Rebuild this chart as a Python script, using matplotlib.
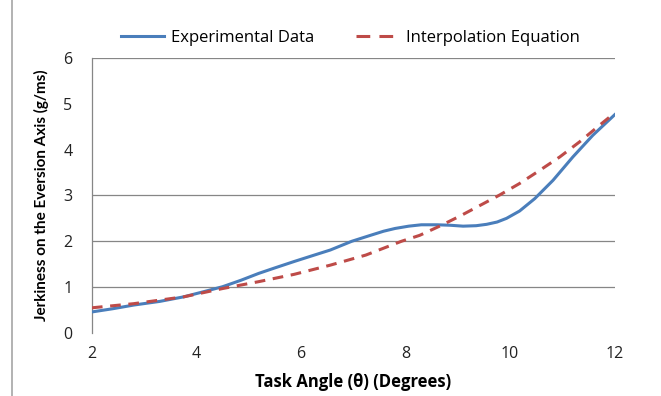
import matplotlib.pyplot as plt
from matplotlib.lines import Line2D

plt.rcParams["font.family"] = ["Open Sans", "DejaVu Sans"]

# task angle (degrees) and jerkiness values
exp_angle = [2.0, 2.4, 2.8, 3.3, 3.76, 4.1, 4.5, 4.85, 5.19, 5.5, 5.87, 6.2, 6.56,
             6.97, 7.3, 7.58, 7.8, 8.06, 8.3, 8.6, 8.85, 9.1, 9.35, 9.55, 9.75,
             9.93, 10.18, 10.47, 10.82, 11.2, 11.58, 12.0]
exp_jerk = [0.46, 0.53, 0.61, 0.69, 0.79, 0.89, 1.01, 1.15, 1.30, 1.42, 1.56, 1.68, 1.81,
            2.00, 2.12, 2.22, 2.28, 2.33, 2.36, 2.36, 2.35, 2.33, 2.34, 2.37, 2.42,
            2.50, 2.66, 2.93, 3.33, 3.84, 4.31, 4.76]

fit_angle = [2.0, 2.8, 3.76, 4.5, 5.19, 5.87, 6.56, 7.24, 7.92, 8.27, 8.65, 9.04,
             9.42, 9.80, 10.18, 10.57, 10.95, 11.33, 11.71, 12.0]
fit_jerk = [0.55, 0.64, 0.79, 0.97, 1.12, 1.28, 1.48, 1.70, 2.00, 2.13, 2.33, 2.55,
            2.78, 3.01, 3.26, 3.55, 3.84, 4.17, 4.53, 4.80]

x_ticks = [2, 4, 6, 8, 10, 12]
y_ticks = [0, 1, 2, 3, 4, 5, 6]
grid_levels = [1, 2, 3, 6]

BLUE = "#4a7ebb"
RED = "#be4b48"
GRID = "#868686"

fig = plt.figure(figsize=(6.61, 3.96), dpi=100)
ax = fig.add_axes([0.139, 0.159, 0.791, 0.695])

for level in grid_levels:
    ax.axhline(level, color=GRID, lw=0.9, zorder=1)

ax.plot(exp_angle, exp_jerk, color=BLUE, lw=2.2, zorder=3)
ax.plot(fit_angle, fit_jerk, color=RED, lw=2.2, ls=(0, (3.5, 2.5)), zorder=4)

ax.set_xlim(2, 12)
ax.set_ylim(0, 6)
ax.set_xticks(x_ticks)
ax.set_yticks(y_ticks)
ax.tick_params(length=0, labelsize=11.5, colors="#222222")
ax.tick_params(axis="x", pad=9)
ax.tick_params(axis="y", pad=14)

for side in ["top", "right", "bottom"]:
    ax.spines[side].set_visible(False)
ax.spines["left"].set_color(GRID)
ax.spines["left"].set_linewidth(0.9)

ax.set_xlabel("Task Angle (\u03b8) (Degrees)", fontsize=12, fontweight="bold", labelpad=8)
ax.set_ylabel("Jerkiness on the Eversion Axis (g/ms)", fontsize=11, fontweight="bold",
              labelpad=10, family=["Lato", "DejaVu Sans"])

handles = [
    Line2D([], [], color=BLUE, lw=2.2),
    Line2D([], [], color=RED, lw=2.2, ls=(0, (4.5, 3.0))),
]
fig.legend(handles, ["Experimental Data", "Interpolation Equation"],
           loc="center", bbox_to_anchor=(0.53, 0.905), ncol=2, frameon=False,
           fontsize=12, handlelength=2.6, handletextpad=0.4, columnspacing=2.5)

# left edge of the chart frame
fig.add_artist(Line2D([12 / 661, 12 / 661], [0, 1], color="#a6a6a6", lw=1.2))

fig.savefig("out.png", dpi=100)
